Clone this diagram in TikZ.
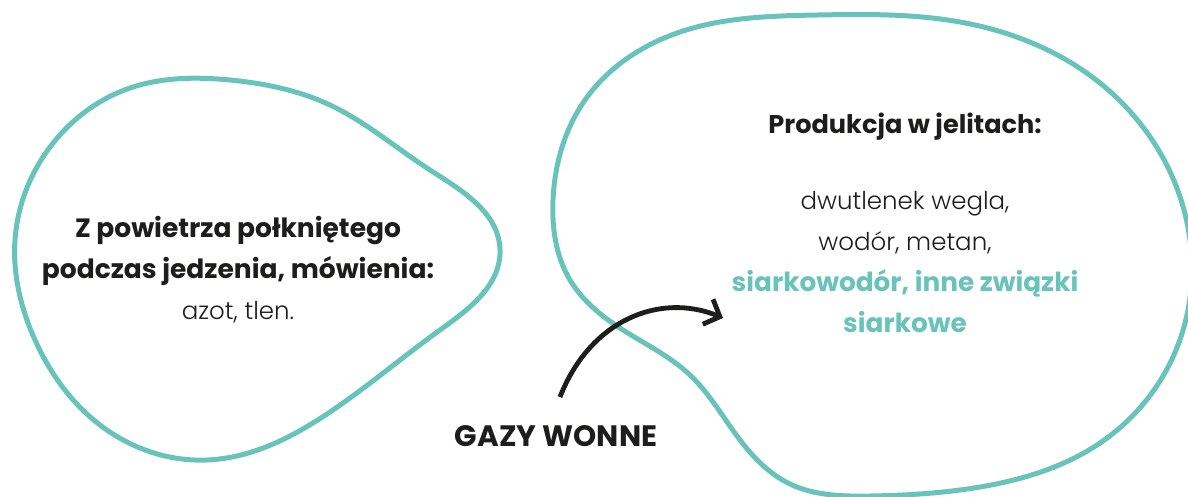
\documentclass[tikz,border=0pt]{standalone}
\usepackage{fontspec}
\setmainfont{Poppins}
\newfontfamily\lightfont{Poppins Light}
\usetikzlibrary{arrows.meta,hobby}

\definecolor{teal}{HTML}{68C3BA}
\definecolor{ink}{HTML}{1D1D1B}

\tikzset{
  blob/.style={draw=teal, line width=5pt, line join=round, use Hobby shortcut, closed=true},
  headtext/.style={font=\fontsize{26.5}{41}\selectfont\bfseries, text=ink, align=center, inner sep=0pt},
  bodytext/.style={font=\fontsize{24.5}{41}\selectfont\lightfont, text=ink, align=center, inner sep=0pt},
  flow/.style={draw=ink, line width=4.8pt, -{Straight Barb[length=13pt, width=27pt, line width=4.8pt]}}
}

\begin{document}
\begin{tikzpicture}[x=1pt, y=-1pt]
  \useasboundingbox (0,0) rectangle (1188,496);

  % swallowed-air blob (left)
  \draw[blob] (15,240) .. (50,147) .. (130,88) .. (230,80) .. (330,105)
    .. (430,170) .. (500,250) .. (440,330) .. (330,412) .. (207,460)
    .. (100,425) .. (35,340);

  % intestinal-production blob (right)
  \draw[blob] (553,200) .. (585,100) .. (680,32) .. (817,15) .. (960,22)
    .. (1100,83) .. (1184,210) .. (1178,345) .. (1100,443) .. (980,487)
    .. (870,496) .. (790,484) .. (740,440) .. (690,375) .. (623,330)
    .. (570,280);

  % left text
  \node[headtext] (air) at (238,270)
    {Z powietrza połkniętego\\podczas jedzenia, mówienia:\\{\mdseries\lightfont\fontsize{24.5}{41}\selectfont azot, tlen.}};

  % right text
  \node[headtext, font=\fontsize{25.6}{41}\selectfont\bfseries] (gut) at (905,127) {Produkcja w jelitach:};
  \node[bodytext, anchor=north] (gases) at (905,191)
    {dwutlenek wegla,\\wodór, metan,\\
     {\normalfont\bfseries\fontsize{26.3}{41}\selectfont\color{teal}siarkowodór, inne związki}\\
     {\normalfont\bfseries\fontsize{26.3}{41}\selectfont\color{teal}siarkowe}};

  % label and arrow
  \node[headtext, font=\fontsize{29.5}{34}\selectfont\bfseries] (label) at (556,436) {GAZY WONNE};
  \coordinate (from) at (560,397);
  \coordinate (to) at (723,318);
  \draw[flow] (from) .. controls (590,320) and (660,292) .. (to);
\end{tikzpicture}
\end{document}
